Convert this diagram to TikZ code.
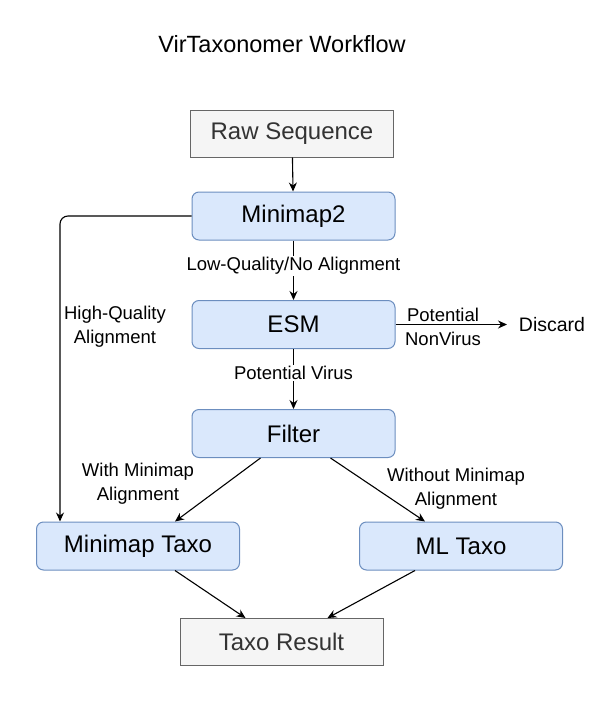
\documentclass[tikz,border=0pt]{standalone}
\usepackage{fontspec}
\setmainfont{Liberation Sans}
\usetikzlibrary{arrows.meta}
\definecolor{bfill}{HTML}{DAE8FC}
\definecolor{bdraw}{HTML}{6C8EBF}
\definecolor{gfill}{HTML}{F5F5F5}
\definecolor{gdraw}{HTML}{666666}
\definecolor{gtext}{HTML}{333333}
\tikzset{
  bluebox/.style={draw=bdraw, fill=bfill, rounded corners=7pt, line width=1pt, minimum width=203pt, minimum height=48pt, font=\fontsize{24}{28}\selectfont, inner sep=0pt},
  graybox/.style={draw=gdraw, fill=gfill, line width=1pt, minimum width=203pt, minimum height=47pt, text=gtext, font=\fontsize{24}{28}\selectfont, inner sep=0pt},
  conn/.style={line width=1.1pt, -{Stealth[length=9pt,width=8pt]}},
  lbl/.style={font=\fontsize{18.5}{24}\selectfont, align=center, inner sep=1pt},
}
\begin{document}
\begin{tikzpicture}[x=1pt,y=-1pt]
\useasboundingbox (0,0) rectangle (603,701);
\node[font=\fontsize{23.5}{28}\selectfont] (title) at (282,44) {VirTaxonomer Workflow};
\node[graybox] (raw) at (292,133.5) {Raw Sequence};
\node[bluebox] (mm2) at (293.5,216) {Minimap2};
\node[bluebox] (esm) at (293.5,324.5) {ESM};
\node[bluebox] (filt) at (293.5,433.5) {Filter};
\node[bluebox] (mmt) at (138,546) {Minimap Taxo};
\node[bluebox] (mlt) at (461,546) {ML Taxo};
\node[graybox] (res) at (281.5,642) {Taxo Result};
\node[font=\fontsize{19.5}{24}\selectfont, inner sep=1pt] (disc) at (552,324.5) {Discard};
\coordinate (discin) at (507,324.5);
\coordinate (corner) at (60,216);

\draw[conn] (raw) -- (mm2);
\draw[conn] (mm2) -- node[lbl, fill=white, pos=0.43] {Low-Quality/No Alignment} (esm);
\draw[conn, rounded corners=8pt] (mm2.west) -- (corner) -- (mmt.north -| corner);
\node[lbl] at (115,327) {High-Quality\\Alignment};
\draw[conn] (esm.east) -- (discin);
\node[lbl] at (443,326.5) {Potential\\NonVirus};
\draw[conn] (esm) -- node[lbl, fill=white, pos=0.4] {Potential Virus} (filt);
\draw[conn] ([xshift=-33pt]filt.south) -- ([xshift=37pt]mmt.north);
\node[lbl] at (138,483.5) {With Minimap\\Alignment};
\draw[conn] ([xshift=37pt]filt.south) -- ([xshift=-36pt]mlt.north);
\node[lbl] at (456,489) {Without Minimap\\Alignment};
\draw[conn] ([xshift=37pt]mmt.south) -- ([xshift=-36pt]res.north);
\draw[conn] ([xshift=-46pt]mlt.south) -- ([xshift=46pt]res.north);
\end{tikzpicture}
\end{document}
